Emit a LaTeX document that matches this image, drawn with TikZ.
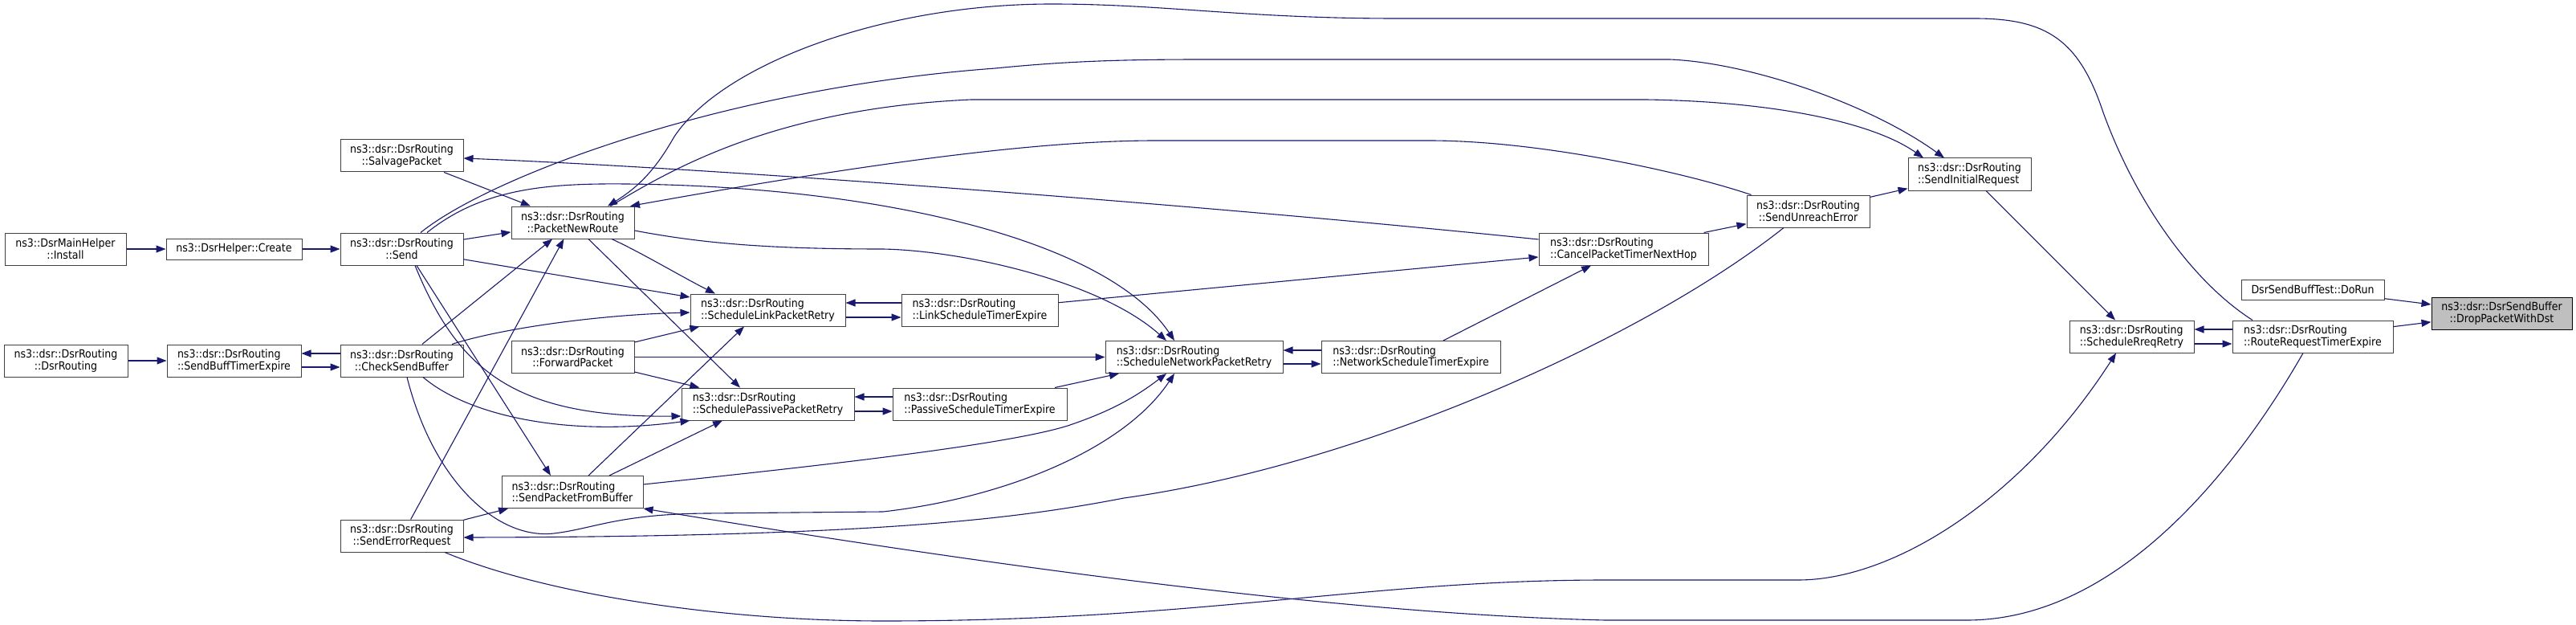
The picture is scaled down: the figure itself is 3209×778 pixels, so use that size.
\documentclass[tikz,border=0pt]{standalone}
\usepackage{fontspec}
\setmainfont{DejaVu Sans Condensed}
\usepackage{xcolor}
\usepackage{tikz}
\usetikzlibrary{arrows.meta,positioning}

\definecolor{edgeblue}{HTML}{191970}
\definecolor{boxline}{HTML}{404040}

\begin{document}
\begin{tikzpicture}[
    x=1pt, y=-1pt,
    node distance=100pt,
    box/.style={rectangle, draw=boxline, line width=1pt, fill=white, minimum height=40pt, inner sep=0pt, align=center, font=\fontsize{14}{14.5}\selectfont},
    boxl/.style={box, align=left},
    hit/.style={fill=black!25, draw=black},
    arrow/.style={->, >={Triangle[length=12pt, width=9pt]}, draw=edgeblue, line width=1.1pt}
]
    \fill[white] (0,0) rectangle (3209,778);

    % left columns
    \node[box, minimum width=151pt] (install) at (81.5,310) {ns3::DsrMainHelper\\::Install};
    \node[box, minimum width=169pt, minimum height=26pt, right of=install, node distance=210pt] (create) {ns3::DsrHelper::Create};
    \node[box, minimum width=153pt, right of=create, node distance=209pt] (send) {ns3::dsr::DsrRouting\\::Send};
    \node[box, minimum width=153pt, above of=send, node distance=116pt] (salvage) {ns3::dsr::DsrRouting\\::SalvagePacket};
    \node[box, minimum width=153pt, below of=send, node distance=139pt] (checksend) {ns3::dsr::DsrRouting\\::CheckSendBuffer};
    \node[box, minimum width=153pt, below of=checksend, node distance=218pt] (ser) {ns3::dsr::DsrRouting\\::SendErrorRequest};
    \node[boxl, minimum width=167pt, left of=checksend, node distance=209pt] (sendbuff) {ns3::dsr::DsrRouting\\::SendBuffTimerExpire};
    \node[box, minimum width=154pt, left of=sendbuff, node distance=209.5pt] (dsrrouting) {ns3::dsr::DsrRouting\\::DsrRouting};

    % middle columns
    \node[box, minimum width=153pt] (pnr) at (713.5,277) {ns3::dsr::DsrRouting\\::PacketNewRoute};
    \node[box, minimum width=153pt, below of=pnr, node distance=167.5pt] (forward) {ns3::dsr::DsrRouting\\::ForwardPacket};
    \node[boxl, minimum width=176pt] (spfb) at (713,612.5) {ns3::dsr::DsrRouting\\::SendPacketFromBuffer};
    \node[boxl, minimum width=193pt] (slpr) at (956.5,386) {ns3::dsr::DsrRouting\\::ScheduleLinkPacketRetry};
    \node[boxl, minimum width=215pt, below of=slpr, node distance=117pt] (sppr) {ns3::dsr::DsrRouting\\::SchedulePassivePacketRetry};
    \node[boxl, minimum width=195pt, right of=slpr, node distance=264pt] (lste) {ns3::dsr::DsrRouting\\::LinkScheduleTimerExpire};
    \node[boxl, minimum width=217pt, right of=sppr, node distance=264pt] (pste) {ns3::dsr::DsrRouting\\::PassiveScheduleTimerExpire};
    \node[boxl, minimum width=221pt] (snpr) at (1487.5,444.5) {ns3::dsr::DsrRouting\\::ScheduleNetworkPacketRetry};
    \node[boxl, minimum width=223pt, right of=snpr, node distance=270pt] (nste) {ns3::dsr::DsrRouting\\::NetworkScheduleTimerExpire};

    % right columns
    \node[boxl, minimum width=211pt] (cptnh) at (2022.5,310) {ns3::dsr::DsrRouting\\::CancelPacketTimerNextHop};
    \node[box, minimum width=153pt] (sue) at (2252.5,263) {ns3::dsr::DsrRouting\\::SendUnreachError};
    \node[boxl, minimum width=153pt] (sir) at (2453.5,217) {ns3::dsr::DsrRouting\\::SendInitialRequest};
    \node[boxl, minimum width=155pt] (srr) at (2655.5,419) {ns3::dsr::DsrRouting\\::ScheduleRreqRetry};
    \node[boxl, minimum width=200pt, right of=srr, node distance=225.5pt] (rrte) {ns3::dsr::DsrRouting\\::RouteRequestTimerExpire};
    \node[box, minimum width=178pt, minimum height=25pt] (dorun) at (2881,360.5) {DsrSendBuffTest::DoRun};
    \node[box, hit, minimum width=175pt] (dpwd) at (3116.5,390) {ns3::dsr::DsrSendBuffer\\::DropPacketWithDst};

    % left chain
    \draw[arrow] (install) -- (create);
    \draw[arrow] (create) -- (send);
    \draw[arrow] (dsrrouting) -- (sendbuff);
    \draw[arrow] ([yshift=-8pt]sendbuff.east) -- ([yshift=-8pt]checksend.west);
    \draw[arrow] ([yshift=9pt]checksend.west) -- ([yshift=9pt]sendbuff.east);

    % from Send
    \draw[arrow] (send) -- (pnr);
    \draw[arrow] (salvage) -- (pnr);
    \draw[arrow] (send) -- (slpr);
    \draw[arrow] ([xshift=16.5pt]send.south) .. controls (570,460) and (640,520) .. ([yshift=-15pt]sppr.west);
    \draw[arrow] ([xshift=18.5pt]send.south) -- ([xshift=-27pt]spfb.north);
    \draw[arrow] ([xshift=31.5pt]send.north) .. controls (600,235) and (680,228) .. (780,229) .. controls (1100,232) and (1380,300) .. ([xshift=-24.5pt]snpr.north);
    \draw[arrow] ([xshift=23.5pt]send.north) .. controls (610,220) and (900,110) .. (1240,85) .. controls (1330,76) and (1400,74) .. (1500,74) -- (2080,74) .. controls (2180,78) and (2330,130) .. ([xshift=-31.5pt]sir.north);

    % from CheckSendBuffer
    \draw[arrow] (checksend) -- (pnr);
    \draw[arrow] ([xshift=62.5pt]checksend.north) .. controls (620,410) and (740,392) .. ([yshift=-3pt]slpr.west);
    \draw[arrow] ([xshift=26.5pt]checksend.south) .. controls (580,515) and (700,545) .. ([xshift=11pt]sppr.south west);
    \draw[arrow] ([xshift=6.5pt]checksend.south) .. controls (540,600) and (620,672) .. (690,664) .. controls (740,658) and (770,640) .. (880,639) -- (1100,637) .. controls (1250,620) and (1400,560) .. ([xshift=-24.5pt]snpr.south);

    % from PacketNewRoute
    \draw[arrow] ([xshift=48.5pt]pnr.south) .. controls (800,315) and (850,345) .. ([xshift=-65.5pt]slpr.north);
    \draw[arrow] ([xshift=19.5pt]pnr.south) -- ([xshift=-34.5pt]sppr.north);
    \draw[arrow] ([yshift=-10pt]pnr.east) .. controls (870,302) and (950,310) .. (1100,310) .. controls (1200,312) and (1370,350) .. ([xshift=-34.5pt]snpr.north);
    \draw[arrow] ([xshift=47pt]pnr.north) .. controls (830,215) and (960,135) .. (1210,124) -- (2050,124) .. controls (2200,126) and (2330,150) .. ([xshift=-57.5pt]sir.north);

    % long arcs back to PacketNewRoute and SalvagePacket
    \draw[arrow] ([xshift=-75pt]rrte.north) .. controls (2730,350) and (2660,250) .. (2620,140) .. controls (2590,50) and (2550,23) .. (2460,23) -- (1740,23) .. controls (1550,23) and (1450,5) .. (1310,5) .. controls (1100,5) and (900,80) .. (840,170) .. controls (820,205) and (800,230) .. ([xshift=43.5pt]pnr.north);
    \draw[arrow] ([xshift=6pt]sue.north west) .. controls (2100,215) and (1920,175) .. (1780,175) -- (1440,175) .. controls (1300,175) and (1100,200) .. ([xshift=71.5pt]pnr.north);
    \draw[arrow] ([yshift=12pt]cptnh.west) .. controls (1500,255) and (900,210) .. ([yshift=-3pt]salvage.east);

    % ForwardPacket and SendPacketFromBuffer
    \draw[arrow] (forward) -- (slpr);
    \draw[arrow] (forward) -- (snpr);
    \draw[arrow] (forward) -- (sppr);
    \draw[arrow] ([xshift=20pt]spfb.north) -- ([xshift=-29.5pt]slpr.south);
    \draw[arrow] ([xshift=46pt]spfb.north) -- ([xshift=-56.5pt]sppr.south);
    \draw[arrow] ([yshift=9.5pt]spfb.east) .. controls (1000,582) and (1250,555) .. (1330,530) .. controls (1390,510) and (1420,490) .. ([xshift=-34.5pt]snpr.south);

    % SendErrorRequest
    \draw[arrow] (ser) -- (pnr);
    \draw[arrow] (ser) -- (spfb);
    \draw[arrow] ([xshift=53.5pt]ser.south) .. controls (680,740) and (900,773) .. (1100,773) .. controls (1500,773) and (1700,722) .. (2000,722) -- (2240,722) .. controls (2360,722) and (2520,620) .. ([xshift=-19.5pt]srr.south);
    \draw[arrow] ([xshift=-30.5pt]sue.south) .. controls (2050,420) and (1700,578) .. (1400,620) .. controls (1270,645) and (1100,668) .. ([yshift=-2pt]ser.east);
    \draw[arrow] ([xshift=-12pt]rrte.south) .. controls (2800,560) and (2650,772) .. (2450,772) -- (2000,772) .. controls (1700,765) and (1300,715) .. (spfb.south east);

    % timer pairs
    \draw[arrow] ([yshift=9pt]lste.west) -- ([yshift=9pt]slpr.east);
    \draw[arrow] ([yshift=-9pt]slpr.east) -- ([yshift=-9pt]lste.west);
    \draw[arrow] ([yshift=9pt]pste.west) -- ([yshift=9pt]sppr.east);
    \draw[arrow] ([yshift=-9pt]sppr.east) -- ([yshift=-9pt]pste.west);
    \draw[arrow] (pste) -- (snpr);
    \draw[arrow] ([yshift=8.5pt]nste.west) -- ([yshift=8.5pt]snpr.east);
    \draw[arrow] ([yshift=-8.5pt]snpr.east) -- ([yshift=-8.5pt]nste.west);

    % right part
    \draw[arrow] (lste) -- (cptnh);
    \draw[arrow] (nste) -- (cptnh);
    \draw[arrow] (cptnh) -- (sue);
    \draw[arrow] (sue) -- (sir);
    \draw[arrow] (sir) -- (srr);
    \draw[arrow] ([yshift=9pt]rrte.west) -- ([yshift=9pt]srr.east);
    \draw[arrow] ([yshift=-9pt]srr.east) -- ([yshift=-9pt]rrte.west);
    \draw[arrow] (dorun) -- (dpwd);
    \draw[arrow] (rrte) -- (dpwd);
\end{tikzpicture}
\end{document}
